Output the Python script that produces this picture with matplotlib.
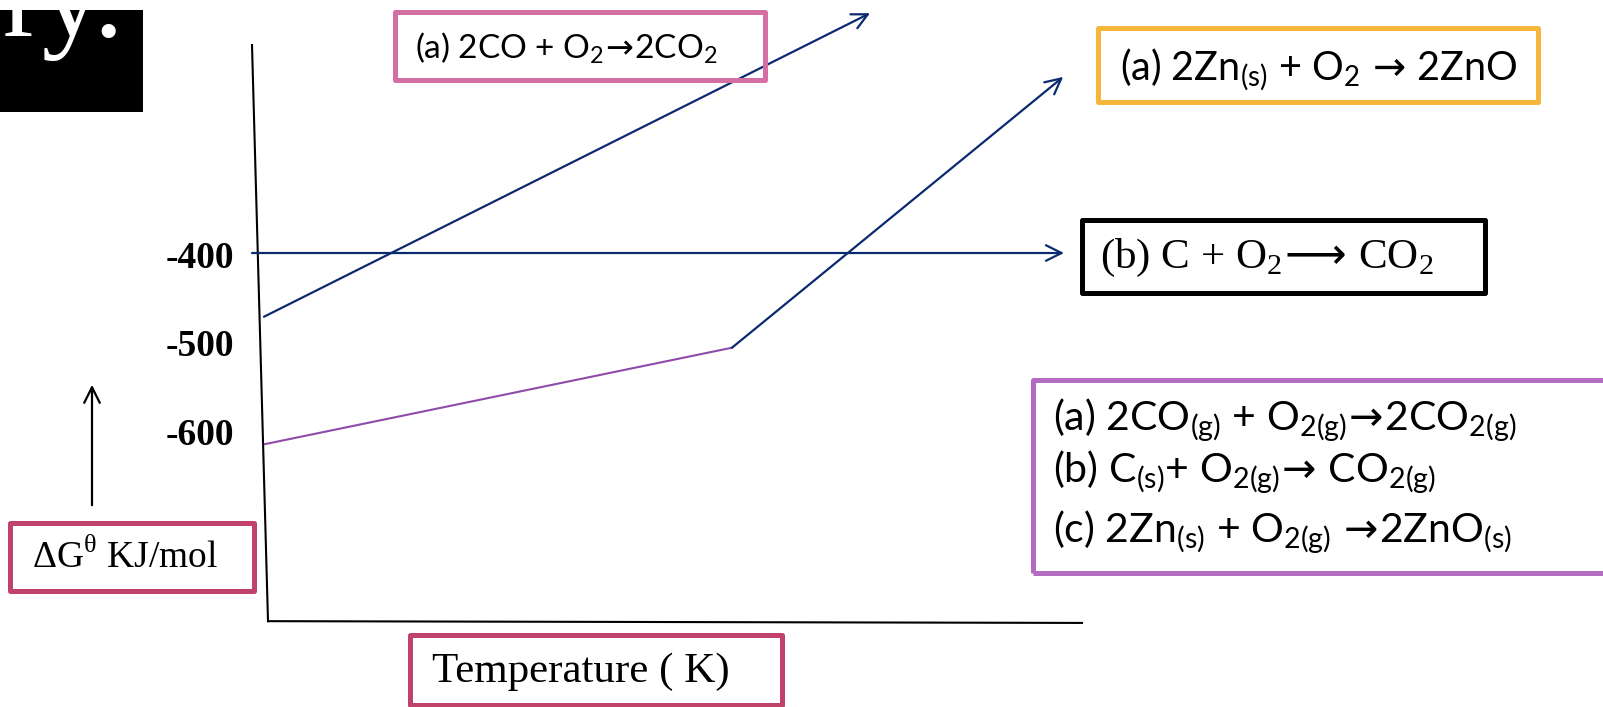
import matplotlib.pyplot as plt
from matplotlib.patches import Rectangle, FancyArrowPatch
from matplotlib.transforms import blended_transform_factory, ScaledTranslation

W, H = 1603, 707

# scale labels on the free energy axis (kJ/mol)
tick_values = [-400, -500, -600]
tick_labels = ['-400', '-500', '-600']

# schematic lines, temperature (K) vs delta G (kJ/mol)
co_T = [-10, 1505]
co_G = [-472, -129]
c_T = [-40, 1990]
c_G = [-400, -400]
zn_T = [-8, 1160, 1988]
zn_G = [-616, -507, -201]

# hand drawn axes
yaxis_T = [-40, 0]
yaxis_G = [-165, -816]
xaxis_T = [0, 2035]
xaxis_G = [-816, -818]

navy = '#0B2A6F'
purple_line = '#8E4BAA'
pink = '#D46FA3'
orange = '#F6B63C'
crimson = '#C0426B'
purple_box = '#B36CC1'

sans = 'Lato'
serif = 'Liberation Serif'

# tight arrow (mathtext puts relation space round \rightarrow)
ARR = r'\!\rightarrow\!'
LARR = r'\!\longrightarrow\!'


def fx(x):
    return x / W


def fy(y):
    return 1 - y / H


def box(x0, y0, x1, y1, color, lw=3.6):
    r = Rectangle((fx(x0), fy(y1)), (x1 - x0) / W, (y1 - y0) / H,
                  transform=fig.transFigure, fill=False, ec=color, lw=lw,
                  joinstyle='round')
    fig.add_artist(r)
    return r


def label(x, y, s, family, size, **kw):
    return fig.text(fx(x), fy(y), s, family=family, fontsize=size,
                    ha='left', va='baseline', **kw)


def sub(s):
    return r'$_{\mathdefault{' + s + '}}$'


fig = plt.figure(figsize=(W / 100, H / 100), dpi=100)
ax = fig.add_axes([0, 0, 1, 1])
ax.set_xlim(-670, 3337.5)
ax.set_ylim(-913.0, -114.1)
ax.axis('off')

# axes lines
ax.plot(yaxis_T, yaxis_G, color='black', lw=1.5)
ax.plot(xaxis_T, xaxis_G, color='black', lw=1.5)

arrow = dict(arrowstyle='->', lw=1.6, mutation_scale=28, shrinkA=0, shrinkB=0)
ax.annotate('', xy=(co_T[1], co_G[1]), xytext=(co_T[0], co_G[0]),
            arrowprops=dict(color=navy, **arrow))
ax.annotate('', xy=(c_T[1], c_G[1]), xytext=(c_T[0], c_G[0]),
            arrowprops=dict(color=navy, **arrow))
ax.plot(zn_T[:2], zn_G[:2], color=purple_line, lw=1.5)
ax.annotate('', xy=(zn_T[2], zn_G[2]), xytext=(zn_T[1], zn_G[1]),
            arrowprops=dict(color=navy, **arrow))

# tick labels
tr = blended_transform_factory(fig.transFigure, ax.transData) + \
    ScaledTranslation(0, -5 / 100, fig.dpi_scale_trans)
for v, t in zip(tick_values, tick_labels):
    ax.text(fx(234), v, t, transform=tr, family=serif, fontweight='bold',
            fontsize=27, ha='right', va='center')

# up arrow for delta G
fig.add_artist(FancyArrowPatch(
    (fx(92), fy(508)), (fx(92), fy(382)), transform=fig.transFigure,
    arrowstyle='->', mutation_scale=28, lw=1.6, color='black'))

# black title fragment top left
blk = Rectangle((0, fy(112)), fx(143), (112 - 10) / H, transform=fig.transFigure,
                color='black', lw=0)
fig.add_artist(blk)
t = fig.text(fx(124), fy(36), 'ry.', family=serif, fontsize=86, color='white',
             ha='right', va='baseline')
t.set_clip_path(blk)

# boxes and labels
box(10, 523, 254, 591, crimson)
label(32, 568, r'ΔG$^{\mathdefault{θ}}$ KJ/mol', serif, 27)

box(410, 635, 782, 705, crimson)
label(432, 682, 'Temperature ( K)', serif, 31)

box(395, 12, 765, 80, pink)
label(415, 58, '(a) 2CO + O' + sub('2') + '$' + ARR + '$2CO' + sub('2'), sans, 24)

box(1098, 28, 1538, 102, orange)
label(1120, 80, '(a) 2Zn' + sub('(s)') + ' + O' + sub('2') + ' $' + ARR + '$ 2ZnO',
      sans, 28.5)

box(1082, 220, 1485, 293, 'black')
label(1100, 268, '(b) C + O' + sub('2') + '$' + LARR + '$ CO' + sub('2'), serif, 31)

box(1033, 380, 1640, 573, purple_box)
label(1053, 430, '(a) 2CO' + sub('(g)') + ' + O' + sub('2(g)') + '$' + ARR + '$2CO'
      + sub('2(g)'), sans, 29.5)
label(1053, 482, '(b) C' + sub('(s)') + '+ O' + sub('2(g)') + '$' + ARR + '$ CO'
      + sub('2(g)'), sans, 29.5)
label(1053, 542, '(c) 2Zn' + sub('(s)') + ' + O' + sub('2(g)') + ' $' + ARR + '$2ZnO'
      + sub('(s)'), sans, 29.5)

fig.savefig('out.png', dpi=100)
